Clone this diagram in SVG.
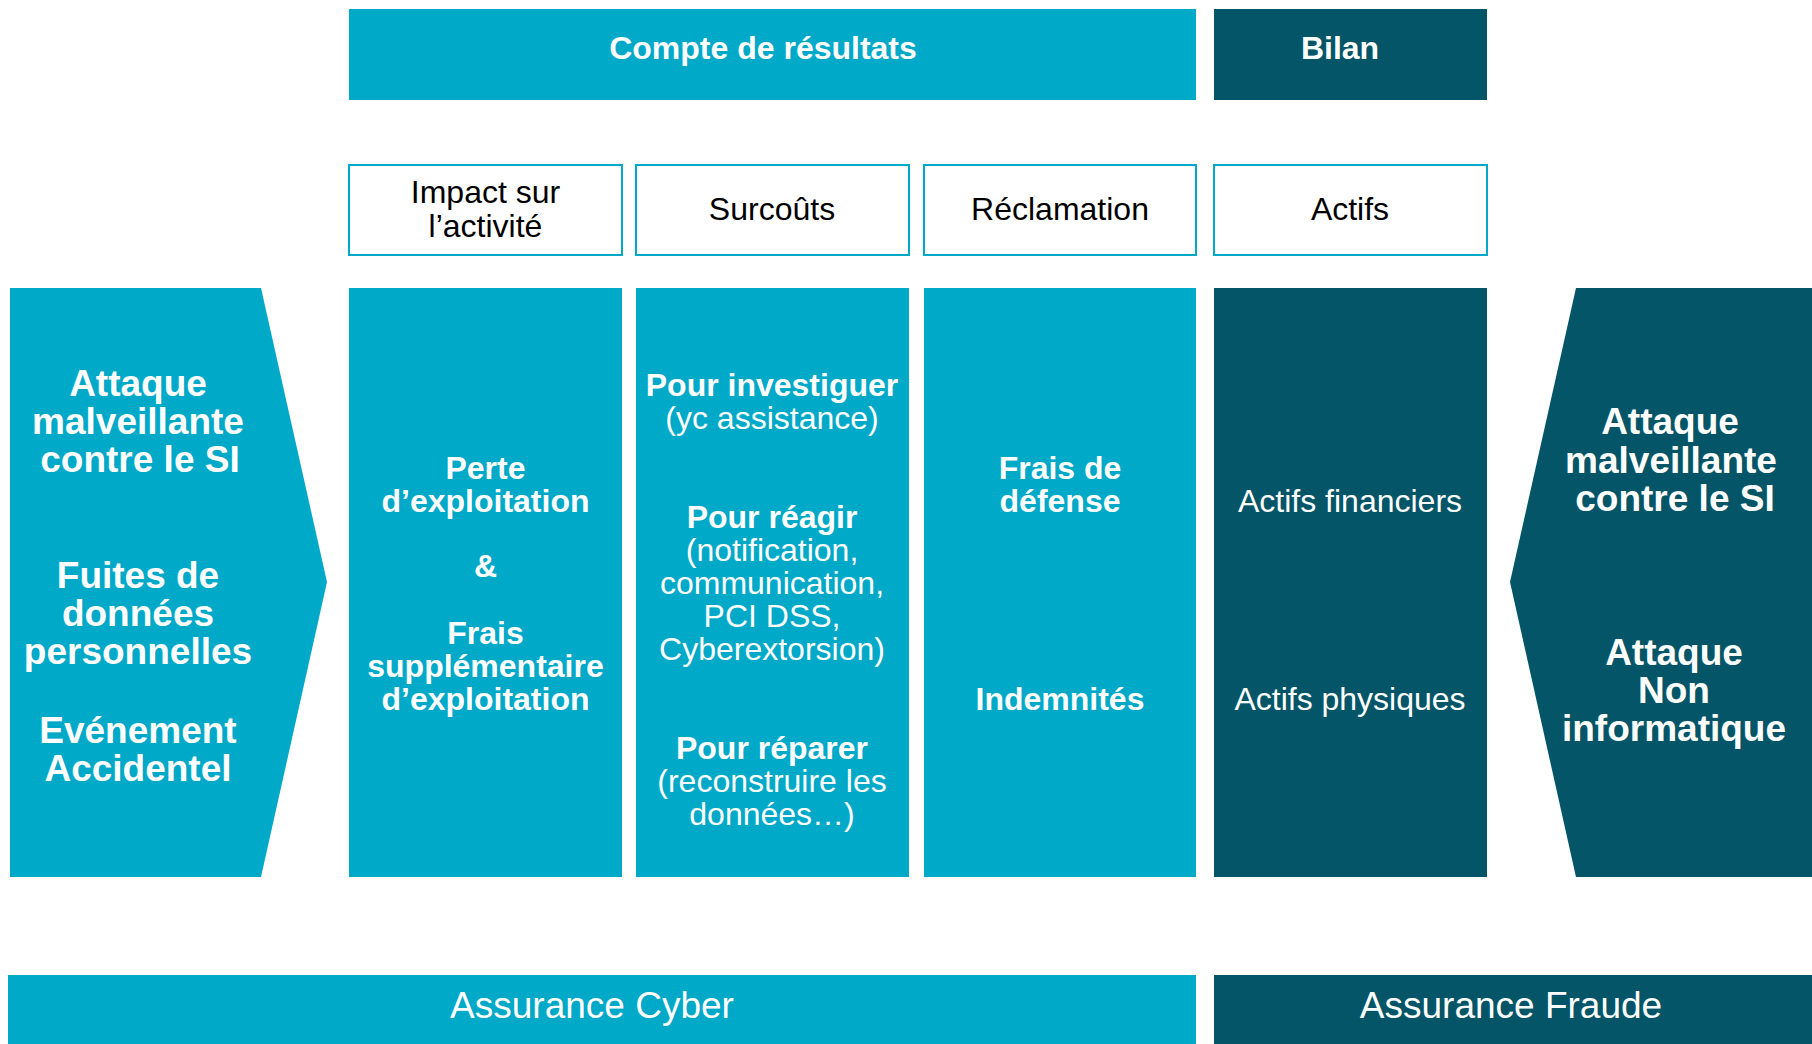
<svg xmlns="http://www.w3.org/2000/svg" width="1812" height="1044" viewBox="0 0 1812 1044">
<style>
.lt{fill:#00A9C8}
.dk{fill:#035567}
.box{fill:#ffffff;stroke:#00A9C8;stroke-width:2}
text{font-family:"Liberation Sans",Arial,sans-serif;text-anchor:middle}
.hb{font-size:32px;font-weight:bold;fill:#ffffff}
.sub{font-size:32px;fill:#000000}
.wb{font-size:32px;font-weight:bold;fill:#ffffff}
.wr{font-size:32px;fill:#ffffff}
.big{font-size:37px;font-weight:bold;fill:#ffffff}
.foot{font-size:37px;fill:#ffffff}
</style>
<rect width="1812" height="1044" fill="#ffffff"/>
<g id="header-compte">
<rect class="lt" x="349" y="9" width="847" height="91"/>
<text class="hb" x="763" y="59">Compte de résultats</text>
</g>
<g id="header-bilan">
<rect class="dk" x="1214" y="9" width="273" height="91"/>
<text class="hb" x="1340" y="59">Bilan</text>
</g>
<g id="sub-impact">
<rect class="box" x="349" y="165" width="273" height="90"/>
<text class="sub" x="485.5" y="203">Impact sur</text>
<text class="sub" x="485.5" y="237">l’activité</text>
</g>
<g id="sub-surcouts">
<rect class="box" x="636" y="165" width="273" height="90"/>
<text class="sub" x="772" y="220">Surcoûts</text>
</g>
<g id="sub-reclamation">
<rect class="box" x="924" y="165" width="272" height="90"/>
<text class="sub" x="1060" y="220">Réclamation</text>
</g>
<g id="sub-actifs">
<rect class="box" x="1214" y="165" width="273" height="90"/>
<text class="sub" x="1350" y="220">Actifs</text>
</g>
<g id="left-causes">
<polygon class="lt" points="10,288 261,288 327,582 261,877 10,877"/>
<text class="big" x="138" y="396">Attaque</text>
<text class="big" x="138" y="434">malveillante</text>
<text class="big" x="140" y="472">contre le SI</text>
<text class="big" x="138" y="588">Fuites de</text>
<text class="big" x="138" y="626">données</text>
<text class="big" x="138" y="664">personnelles</text>
<text class="big" x="138" y="743">Evénement</text>
<text class="big" x="138" y="781">Accidentel</text>
</g>
<g id="col-impact">
<rect class="lt" x="349" y="288" width="273" height="589"/>
<text class="wb" x="485.5" y="479">Perte</text>
<text class="wb" x="485.5" y="512">d’exploitation</text>
<text class="wb" x="485.5" y="577">&amp;</text>
<text class="wb" x="485.5" y="644">Frais</text>
<text class="wb" x="485.5" y="677">supplémentaire</text>
<text class="wb" x="485.5" y="710">d’exploitation</text>
</g>
<g id="col-surcouts">
<rect class="lt" x="636" y="288" width="273" height="589"/>
<text class="wb" x="772" y="396">Pour investiguer</text>
<text class="wr" x="772" y="429">(yc assistance)</text>
<text class="wb" x="772" y="528">Pour réagir</text>
<text class="wr" x="772" y="561">(notification,</text>
<text class="wr" x="772" y="594">communication,</text>
<text class="wr" x="772" y="627">PCI DSS,</text>
<text class="wr" x="772" y="660">Cyberextorsion)</text>
<text class="wb" x="772" y="759">Pour réparer</text>
<text class="wr" x="772" y="792">(reconstruire les</text>
<text class="wr" x="772" y="825">données…)</text>
</g>
<g id="col-reclamation">
<rect class="lt" x="924" y="288" width="272" height="589"/>
<text class="wb" x="1060" y="479">Frais de</text>
<text class="wb" x="1060" y="512">défense</text>
<text class="wb" x="1060" y="710">Indemnités</text>
</g>
<g id="col-actifs">
<rect class="dk" x="1214" y="288" width="273" height="589"/>
<text class="wr" x="1350" y="512">Actifs financiers</text>
<text class="wr" x="1350" y="710">Actifs physiques</text>
</g>
<g id="right-causes">
<polygon class="dk" points="1576,288 1812,288 1812,877 1576,877 1510,582"/>
<text class="big" x="1670" y="434">Attaque</text>
<text class="big" x="1671" y="473">malveillante</text>
<text class="big" x="1675" y="511">contre le SI</text>
<text class="big" x="1674" y="665">Attaque</text>
<text class="big" x="1674" y="703">Non</text>
<text class="big" x="1674" y="741">informatique</text>
</g>
<g id="footer-cyber">
<rect class="lt" x="8" y="975" width="1188" height="69"/>
<text class="foot" x="592" y="1018">Assurance Cyber</text>
</g>
<g id="footer-fraude">
<rect class="dk" x="1214" y="975" width="598" height="69"/>
<text class="foot" x="1511" y="1018">Assurance Fraude</text>
</g>
<g id="connectors"></g>
</svg>
